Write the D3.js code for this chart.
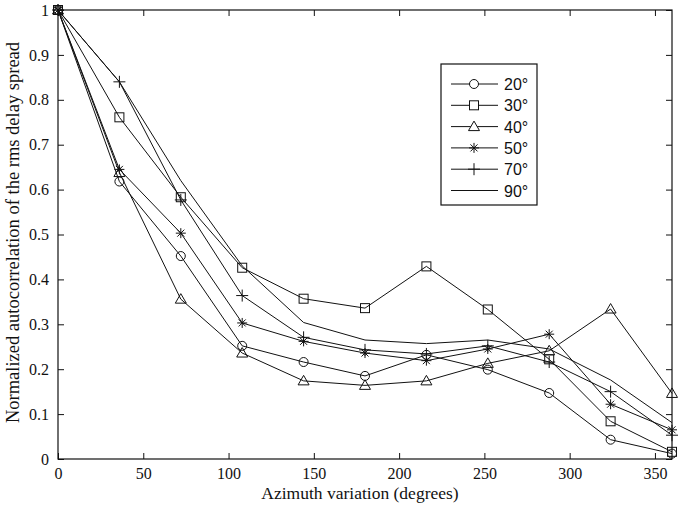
<!DOCTYPE html>
<html lang="en">
<head>
  <meta charset="UTF-8">
  <title>Autocorrelation of rms delay spread vs azimuth</title>
  <script src="https://d3js.org/d3.v7.min.js"></script>
  <style>
    body { margin: 0; background: #fff; }
    svg { display: block; }
  </style>
</head>
<body>
  <svg id="chart" width="685" height="514"></svg>
  <script>
    // Azimuth positions (degrees)
    const azimuth = [0, 36, 72, 108, 144, 180, 216, 252, 288, 324, 360];

    // one array per series
    const s20 = [1, 0.618, 0.452, 0.252, 0.216, 0.185, 0.232, 0.199, 0.147, 0.043, 0.012];
    const s30 = [1, 0.761, 0.583, 0.426, 0.357, 0.336, 0.429, 0.333, 0.222, 0.084, 0.016];
    const s40 = [1, 0.638, 0.356, 0.236, 0.174, 0.164, 0.174, 0.213, 0.241, 0.334, 0.146];
    const s50 = [1, 0.645, 0.503, 0.303, 0.262, 0.236, 0.219, 0.245, 0.278, 0.122, 0.065];
    const s70 = [1, 0.840, 0.577, 0.364, 0.271, 0.243, 0.234, 0.252, 0.216, 0.150, 0.053];
    const s90 = [1, 0.840, 0.620, 0.430, 0.304, 0.265, 0.257, 0.265, 0.245, 0.176, 0.081];

    const seriesNames = ["20°", "30°", "40°", "50°", "70°", "90°"];
    const seriesMarkers = ["circle", "square", "triangle", "asterisk", "plus", "none"];
    const seriesValues = [s20, s30, s40, s50, s70, s90];

    const xTicks = [0, 50, 100, 150, 200, 250, 300, 350];
    const yTicks = [0, 0.1, 0.2, 0.3, 0.4, 0.5, 0.6, 0.7, 0.8, 0.9, 1];

    const margin = { top: 10, right: 13, bottom: 55, left: 58 },
          width = 685 - margin.left - margin.right,
          height = 514 - margin.top - margin.bottom;

    const serif = "'Liberation Serif', 'Times New Roman', serif";
    const ink = "#111";

    const svg = d3.select("#chart");
    const g = svg.append("g")
                 .attr("transform", `translate(${margin.left},${margin.top})`);

    const x = d3.scaleLinear().domain([0, 360]).range([0, width]);
    const y = d3.scaleLinear().domain([0, 1]).range([height, 0]);

    // --- axes (inward ticks, mirrored on top/right like matlab) ---
    const fmtY = d => (d === 0 ? "0" : d === 1 ? "1" : d3.format(".1f")(d));

    g.append("g")
     .attr("transform", `translate(0,${height})`)
     .call(d3.axisBottom(x).tickValues(xTicks).tickSizeInner(-6).tickSizeOuter(0).tickPadding(9).tickFormat(d3.format("d")));
    g.append("g")
     .call(d3.axisTop(x).tickValues(xTicks).tickSizeInner(-6).tickSizeOuter(0).tickFormat(""));
    g.append("g")
     .call(d3.axisLeft(y).tickValues(yTicks).tickSizeInner(-6).tickSizeOuter(0).tickPadding(9).tickFormat(fmtY));
    g.append("g")
     .attr("transform", `translate(${width},0)`)
     .call(d3.axisRight(y).tickValues(yTicks).tickSizeInner(-6).tickSizeOuter(0).tickFormat(""));

    g.selectAll(".domain").remove();
    g.selectAll(".tick line").attr("stroke", ink);
    g.selectAll(".tick text")
     .attr("font-family", null)
     .style("font-family", serif)
     .style("font-size", "16px")
     .attr("fill", ink);

    g.append("rect")
     .attr("width", width).attr("height", height)
     .attr("fill", "none").attr("stroke", ink).attr("stroke-width", 1.2);

    // axis titles
    svg.append("text")
       .attr("x", margin.left + width / 2 - 5)
       .attr("y", 499)
       .attr("text-anchor", "middle")
       .style("font-family", serif)
       .style("font-size", "17.5px")
       .attr("fill", ink)
       .text("Azimuth variation (degrees)");

    svg.append("text")
       .attr("transform", `translate(19,${margin.top + height / 2 - 2}) rotate(-90)`)
       .attr("text-anchor", "middle")
       .style("font-family", serif)
       .style("font-size", "18.5px")
       .attr("fill", ink)
       .text("Normalized autocorrelation of the rms delay spread");

    // --- markers ---
    function drawMarker(sel, type) {
      if (type === "circle") {
        sel.append("circle").attr("r", 4.5);
      } else if (type === "square") {
        sel.append("rect").attr("x", -4.5).attr("y", -4.5).attr("width", 9).attr("height", 9);
      } else if (type === "triangle") {
        sel.append("path").attr("d", "M0,-5.5L5.5,4L-5.5,4Z");
      } else if (type === "asterisk") {
        sel.append("path").attr("d", "M0,-5V5M-5,0H5M-3.5,-3.5L3.5,3.5M-3.5,3.5L3.5,-3.5");
      } else if (type === "plus") {
        sel.append("path").attr("d", "M0,-6V6M-6,0H6");
      }
    }

    const line = d3.line()
                   .x(d => x(d.az))
                   .y(d => y(d.v));

    seriesValues.forEach((vals, i) => {
      const data = azimuth.map((az, k) => ({ az: az, v: vals[k] }));
      g.append("path")
       .datum(data)
       .attr("fill", "none")
       .attr("stroke", ink)
       .attr("stroke-width", 1)
       .attr("d", line);

      const pts = g.selectAll(".pt" + i)
       .data(data)
       .enter()
       .append("g")
       .attr("class", "pt" + i)
       .attr("transform", d => `translate(${x(d.az)},${y(d.v)})`)
       .attr("fill", "none")
       .attr("stroke", ink)
       .attr("stroke-width", 1);
      pts.each(function() { drawMarker(d3.select(this), seriesMarkers[i]); });
    });

    // --- legend ---
    const legend = svg.append("g").attr("transform", "translate(441,64)");
    legend.append("rect")
          .attr("width", 96).attr("height", 141)
          .attr("fill", "#fff").attr("stroke", ink).attr("stroke-width", 1.2);

    seriesNames.forEach((name, i) => {
      const row = legend.append("g").attr("transform", `translate(0,${20 + i * 21.3})`);
      row.append("line")
         .attr("x1", 10).attr("x2", 57)
         .attr("stroke", ink).attr("stroke-width", 1);
      const m = row.append("g")
                   .attr("transform", "translate(33,0)")
                   .attr("fill", "#fff").attr("stroke", ink).attr("stroke-width", 1);
      drawMarker(m, seriesMarkers[i]);
      row.append("text")
         .attr("x", 63).attr("y", 6)
         .style("font-family", "'Liberation Sans', Arial, sans-serif")
         .style("font-size", "16px")
         .attr("fill", ink)
         .text(name);
    });
  </script>
</body>
</html>
